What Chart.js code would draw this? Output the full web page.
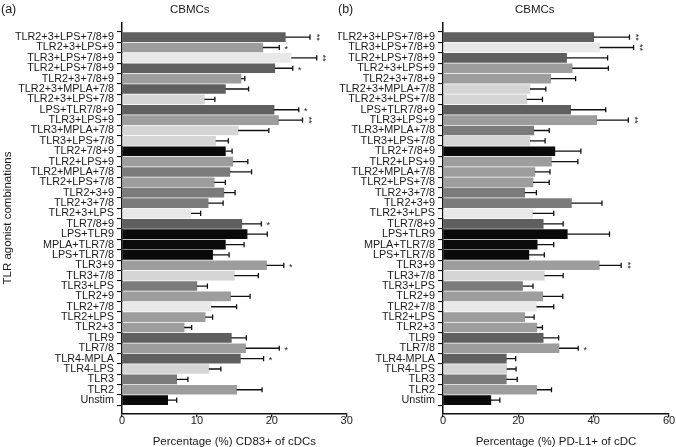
<!DOCTYPE html>
<html>
<head>
<meta charset="utf-8">
<script src="https://cdn.jsdelivr.net/npm/chart.js@4.4.1/dist/chart.umd.min.js"></script>
<style>
    html, body { margin: 0; padding: 0; background: #fff; }
    #wrap { position: relative; width: 676px; height: 447px; overflow: hidden; font-family: 'Liberation Sans', Arial, sans-serif; color: #1a1a1a; }
    canvas { position: absolute; top: 0; }
    #chartA { left: 0; }
    #chartB { left: 338px; }
    .txt { position: absolute; font-size: 11.5px; line-height: 14px; white-space: nowrap; }
    .letter { font-size: 12.5px; }
</style>
</head>
<body>
<div id="wrap">
    <canvas id="chartA" width="360" height="447"></canvas>
    <canvas id="chartB" width="338" height="447"></canvas>
    <div class="txt letter" style="left:1px; top:2px;">(a)</div>
    <div class="txt letter" style="left:338px; top:2px;">(b)</div>
    <div class="txt" style="left:170px; top:2px;">CBMCs</div>
    <div class="txt" style="left:515px; top:2px;">CBMCs</div>
</div>
<script>
// -------------------------
// Data: panel (a) CD83+
// -------------------------
const labelsA = [
    'TLR2+3+LPS+7/8+9', 'TLR2+3+LPS+9', 'TLR3+LPS+7/8+9', 'TLR2+LPS+7/8+9', 'TLR2+3+7/8+9',
    'TLR2+3+MPLA+7/8', 'TLR2+3+LPS+7/8', 'LPS+TLR7/8+9', 'TLR3+LPS+9', 'TLR3+MPLA+7/8',
    'TLR3+LPS+7/8', 'TLR2+7/8+9', 'TLR2+LPS+9', 'TLR2+MPLA+7/8', 'TLR2+LPS+7/8',
    'TLR2+3+9', 'TLR2+3+7/8', 'TLR2+3+LPS', 'TLR7/8+9', 'LPS+TLR9',
    'MPLA+TLR7/8', 'LPS+TLR7/8', 'TLR3+9', 'TLR3+7/8', 'TLR3+LPS',
    'TLR2+9', 'TLR2+7/8', 'TLR2+LPS', 'TLR2+3', 'TLR9',
    'TLR7/8', 'TLR4-MPLA', 'TLR4-LPS', 'TLR3', 'TLR2', 'Unstim'
];
const meansA = [21.8, 18.8, 22.6, 20.4, 15.9, 13.8, 11.0, 20.3, 20.9, 15.5,
                12.5, 13.8, 14.8, 14.4, 12.3, 13.6, 11.5, 9.2, 16.0, 16.7,
                13.8, 12.1, 19.3, 15.0, 10.0, 14.5, 11.9, 11.1, 8.3, 14.6,
                16.5, 15.8, 11.6, 7.3, 15.3, 6.1];
const errorsA = [3.3, 2.2, 3.4, 2.4, 0.5, 3.1, 1.4, 3.3, 3.2, 4.1,
                 1.7, 0.9, 2.0, 2.9, 1.5, 1.5, 2.0, 1.3, 2.6, 2.7,
                 2.5, 2.2, 2.3, 3.2, 1.4, 2.6, 3.4, 1.0, 1.0, 2.0,
                 4.5, 3.1, 1.6, 1.5, 3.4, 1.2];
const sigA = ['**', '*', '**', '*', '', '', '', '*', '**', '',
              '', '', '', '', '', '', '', '', '*', '',
              '', '', '*', '', '', '', '', '', '', '',
              '*', '*', '', '', '', ''];
const ticksA = [0, 10, 20, 30];

// -------------------------
// Data: panel (b) PD-L1+
// -------------------------
const labelsB = [
    'TLR2+3+LPS+7/8+9', 'TLR3+LPS+7/8+9', 'TLR2+LPS+7/8+9', 'TLR2+3+LPS+9', 'TLR2+3+7/8+9',
    'TLR2+3+MPLA+7/8', 'TLR2+3+LPS+7/8', 'LPS+TLR7/8+9', 'TLR3+LPS+9', 'TLR3+MPLA+7/8',
    'TLR3+LPS+7/8', 'TLR2+7/8+9', 'TLR2+LPS+9', 'TLR2+MPLA+7/8', 'TLR2+LPS+7/8',
    'TLR2+3+7/8', 'TLR2+3+9', 'TLR2+3+LPS', 'TLR7/8+9', 'LPS+TLR9',
    'MPLA+TLR7/8', 'LPS+TLR7/8', 'TLR3+9', 'TLR3+7/8', 'TLR3+LPS',
    'TLR2+9', 'TLR2+7/8', 'TLR2+LPS', 'TLR2+3', 'TLR9',
    'TLR7/8', 'TLR4-MPLA', 'TLR4-LPS', 'TLR3', 'TLR2', 'Unstim'
];
const meansB = [40.0, 41.6, 32.8, 34.3, 28.6, 23.1, 22.2, 33.9, 40.8, 24.1,
                23.1, 29.7, 28.8, 24.4, 23.9, 21.7, 34.1, 23.8, 26.6, 33.0,
                25.0, 22.8, 41.5, 26.9, 21.1, 26.5, 24.8, 21.7, 24.9, 26.6,
                30.8, 16.8, 16.9, 16.8, 24.9, 12.7];
const errorsB = [9.5, 9.0, 10.9, 9.6, 6.6, 4.2, 4.2, 9.3, 8.4, 4.1,
                 4.0, 6.9, 7.0, 4.0, 4.3, 3.1, 8.1, 5.6, 5.3, 11.2,
                 4.4, 4.1, 5.8, 5.0, 2.8, 5.3, 4.6, 2.5, 1.5, 4.1,
                 5.1, 2.5, 2.5, 2.9, 3.9, 2.4];
const sigB = ['**', '**', '', '', '', '', '', '', '**', '',
              '', '', '', '', '', '', '', '', '', '',
              '', '', '**', '', '', '', '', '', '', '',
              '*', '', '', '', '', ''];
const ticksB = [0, 20, 40, 60];

// -------------------------
// Bar shades
// -------------------------
const D = '#5f5f5f', M = '#9d9d9d', MD = '#7b7b7b', L = '#d5d5d5', VL = '#e8e8e8', K = '#0a0a0a';
const colorsA = [D, M, VL, D, M, D, L, D, M, L, L, K, M, MD, M, MD, MD, VL, D, K,
                 K, K, M, L, MD, M, VL, M, M, D, M, D, L, MD, M, K];
const colorsB = [D, VL, D, M, M, L, L, D, M, MD, L, K, M, M, M, MD, MD, VL, D, K,
                 K, K, M, L, MD, M, VL, M, M, D, M, D, L, MD, M, K];

Chart.defaults.font.family = "'Liberation Sans', Arial, sans-serif";
Chart.defaults.color = '#1a1a1a';

// error bars + significance stars
const errorBars = {
    id: 'errorBars',
    afterDatasetsDraw(chart, args, opts) {
        const { ctx, scales: { x, y } } = chart;
        ctx.save();
        ctx.strokeStyle = '#111';
        ctx.fillStyle = '#222';
        ctx.lineWidth = 1.3;
        opts.means.forEach((m, i) => {
            const x0 = x.getPixelForValue(m);
            const x1 = x.getPixelForValue(m + opts.errors[i]);
            const yc = y.getPixelForValue(i);
            ctx.beginPath();
            ctx.moveTo(x0, yc);
            ctx.lineTo(x1, yc);
            ctx.moveTo(x1, yc - 2.6);
            ctx.lineTo(x1, yc + 2.6);
            ctx.stroke();

            const s = opts.sig[i];
            if (!s) return;
            ctx.font = "9px 'Liberation Sans', Arial, sans-serif";
            ctx.textAlign = 'center';
            ctx.textBaseline = 'middle';
            if (s === '**') {
                ctx.save();
                ctx.translate(x1 + 8, yc);
                ctx.rotate(Math.PI / 2);
                ctx.fillText('**', 0, 2);
                ctx.restore();
            } else {
                ctx.fillText('*', x1 + 7, yc + 2);
            }
        });
        ctx.restore();
    }
};

function makePanel(id, labels, means, errors, sig, colors, ticks, yWidth, padRight, xTitle, yTitle) {
    const ctx = document.getElementById(id).getContext('2d');
    return new Chart(ctx, {
        type: 'bar',
        data: {
            datasets: [{
                data: means.map((v, i) => ({ x: v, y: i })),
                backgroundColor: colors,
                borderWidth: 0,
                barThickness: 9
            }]
        },
        options: {
            indexAxis: 'y',
            responsive: false,
            animation: false,
            layout: { padding: { top: 22.7, right: padRight, bottom: 0, left: 0 } },
            plugins: {
                legend: { display: false },
                tooltip: { enabled: false },
                errorBars: { means, errors, sig }
            },
            scales: {
                x: {
                    type: 'linear',
                    min: ticks[0],
                    max: ticks[ticks.length - 1],
                    afterBuildTicks: (scale) => { scale.ticks = ticks.map(v => ({ value: v })); },
                    afterFit: (scale) => { scale.height = 33.7; },
                    grid: {
                        display: true, drawOnChartArea: false, drawTicks: true,
                        color: '#111', tickColor: '#111', tickLength: 4, tickWidth: 1.3, lineWidth: 1.3
                    },
                    border: { display: true, color: '#111', width: 1.5 },
                    ticks: { font: { size: 11 }, padding: -3, maxRotation: 0 },
                    title: { display: true, text: xTitle, font: { size: 11.5 }, padding: { top: 0, bottom: -2 } }
                },
                y: {
                    type: 'linear',
                    reverse: true,
                    min: -0.87,
                    max: 35.75,
                    afterBuildTicks: (scale) => { scale.ticks = labels.map((_, i) => ({ value: i })); },
                    afterFit: (scale) => { scale.width = yWidth; },
                    grid: {
                        display: true, drawOnChartArea: false, drawTicks: true,
                        color: '#111', tickColor: '#111', tickLength: 5, tickWidth: 1.1, lineWidth: 1.1
                    },
                    border: { display: true, color: '#111', width: 1.5 },
                    ticks: {
                        autoSkip: false,
                        font: { size: 10.8 },
                        padding: 3,
                        callback: (v) => labels[v]
                    },
                    title: { display: !!yTitle, text: yTitle, font: { size: 11.5 }, padding: { top: 1, bottom: 0 } }
                }
            }
        },
        plugins: [errorBars]
    });
}

makePanel('chartA', labelsA, meansA, errorsA, sigA, colorsA, ticksA, 122, 13.3,
    'Percentage (%) CD83+ of cDCs', 'TLR agonist combinations');
makePanel('chartB', labelsB, meansB, errorsB, sigB, colorsB, ticksB, 105, 7,
    'Percentage (%) PD-L1+ of cDC', '');
</script>
</body>
</html>
